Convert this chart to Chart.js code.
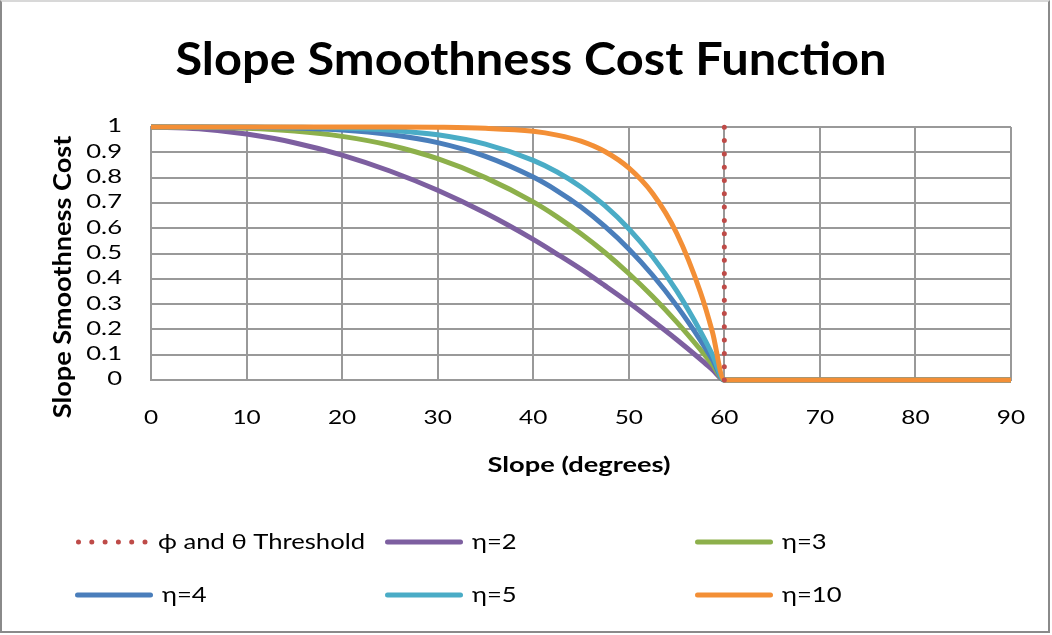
<!DOCTYPE html>
<html>
<head>
<meta charset="utf-8">
<title>Slope Smoothness Cost Function</title>
<script src="https://cdn.jsdelivr.net/npm/chart.js@4"></script>
<style>
  html, body { margin: 0; padding: 0; background: #fff; }
  #frame {
    position: absolute; left: 0; top: 0;
    width: 1046px; height: 629px;
    border: 2px solid #8a8a8a;
    border-top-color: #d8d8d8;
  }
  #wrap { position: absolute; left: -2px; top: -2px; width: 1052px; height: 635px; }
</style>
</head>
<body>
<div id="frame"><div id="wrap"><canvas id="costChart" width="1052" height="635"></canvas></div></div>
<script>
// slope samples (degrees) shared by every curve
const slopeDeg = [0, 5, 10, 15, 20, 25, 30, 35, 40, 42.5, 45, 47.5, 50, 52.5, 55, 57.5, 58.75, 60, 90];

// cost values per eta
const eta2  = [1, 0.993, 0.972, 0.938, 0.889, 0.826, 0.75, 0.66, 0.556, 0.498, 0.438, 0.373, 0.306, 0.234, 0.16, 0.082, 0.041, 0, 0];
const eta3  = [1, 0.999, 0.995, 0.984, 0.963, 0.928, 0.875, 0.80, 0.704, 0.645, 0.578, 0.504, 0.421, 0.33, 0.23, 0.12, 0.061, 0, 0];
const eta4  = [1, 1, 0.999, 0.996, 0.988, 0.970, 0.938, 0.884, 0.802, 0.748, 0.684, 0.607, 0.518, 0.414, 0.294, 0.157, 0.081, 0, 0];
const eta5  = [1, 1, 1, 0.999, 0.996, 0.987, 0.969, 0.932, 0.868, 0.822, 0.763, 0.689, 0.598, 0.487, 0.353, 0.192, 0.10, 0, 0];
const eta10 = [1, 1, 1, 1, 1, 1, 0.999, 0.995, 0.983, 0.968, 0.944, 0.903, 0.838, 0.737, 0.581, 0.347, 0.19, 0, 0];

// threshold marker
const thresholdX = [60, 60];
const thresholdY = [0, 1];

// axis ticks
const xTickValues = [0, 10, 20, 30, 40, 50, 60, 70, 80, 90];
const yTickValues = [0, 0.1, 0.2, 0.3, 0.4, 0.5, 0.6, 0.7, 0.8, 0.9, 1];
const yTickLabels = ['0', '0.1', '0.2', '0.3', '0.4', '0.5', '0.6', '0.7', '0.8', '0.9', '1'];

const seriesLabels = ['ϕ and θ Threshold', 'η=2', 'η=3', 'η=4', 'η=5', 'η=10'];
const seriesColors = ['#be4b48', '#7d5fa0', '#8db04b', '#4a7ebb', '#4aacc6', '#f38f36'];

const chartTitle = 'Slope Smoothness Cost Function';
const xTitle = 'Slope (degrees)';
const yTitle = 'Slope Smoothness Cost';

const FONT = 'Lato, "Open Sans", sans-serif';

function toPoints(xs, ys) {
    return xs.map((x, i) => ({ x: x, y: ys[i] }));
}

const curves = [eta2, eta3, eta4, eta5, eta10];

const datasets = [{
    label: seriesLabels[0],
    data: toPoints(thresholdX, thresholdY),
    borderColor: seriesColors[0],
    borderWidth: 5,
    borderDash: [0, 13.3],
    borderCapStyle: 'round',
    pointRadius: 0,
    order: 0,
    clip: 8
}];
curves.forEach((vals, i) => {
    datasets.push({
        label: seriesLabels[i + 1],
        data: toPoints(slopeDeg, vals),
        borderColor: seriesColors[i + 1],
        borderWidth: 5,
        cubicInterpolationMode: 'monotone',
        pointRadius: 0,
        order: 5 - i,
        clip: 8
    });
});

// text is drawn slightly widened, like the office renderer does
function wideText(ctx, text, x, y, font, stretch, align, angle) {
    ctx.save();
    ctx.translate(x, y);
    if (angle) ctx.rotate(angle);
    ctx.scale(stretch, 1);
    ctx.font = font;
    ctx.textAlign = align;
    ctx.textBaseline = 'middle';
    ctx.fillStyle = '#000';
    ctx.fillText(text, 0, 0);
    ctx.restore();
}

// legend slots: three columns, two rows
const legendSlots = [
    { x: 76, y: 542, text: 158 },
    { x: 385, y: 542 },
    { x: 695, y: 542 },
    { x: 75, y: 595 },
    { x: 385, y: 595 },
    { x: 695, y: 595 }
];

const labelsPlugin = {
    id: 'labelsPlugin',
    afterDraw(chart) {
        const ctx = chart.ctx;
        const xs = chart.scales.x;
        const ys = chart.scales.y;
        const area = chart.chartArea;

        wideText(ctx, chartTitle, 531, 60, 'bold 46px ' + FONT, 1.06, 'center');

        xs.ticks.forEach(t => {
            wideText(ctx, String(t.value), xs.getPixelForValue(t.value), 418, '20px ' + FONT, 1.22, 'center');
        });
        ys.ticks.forEach((t, i) => {
            wideText(ctx, yTickLabels[i], area.left - 29, ys.getPixelForValue(t.value) - 1, '20px ' + FONT, 1.28, 'right');
        });

        wideText(ctx, xTitle, 579, 465, 'bold 21px ' + FONT, 1.3, 'center');
        wideText(ctx, yTitle, 63, 277, 'bold 24px ' + FONT, 1.13, 'center', -Math.PI / 2);

        chart.data.datasets.forEach((ds, i) => {
            const slot = legendSlots[i];
            const len = 78;
            ctx.save();
            ctx.strokeStyle = ds.borderColor;
            ctx.lineWidth = ds.borderWidth;
            ctx.lineCap = 'round';
            ctx.setLineDash(ds.borderDash || []);
            ctx.beginPath();
            ctx.moveTo(slot.x + 2.5, slot.y);
            ctx.lineTo(slot.x + len - 2.5, slot.y);
            ctx.stroke();
            ctx.restore();
            wideText(ctx, ds.label, slot.text || slot.x + len + 9, slot.y, '21px ' + FONT, 1.22, 'left');
        });
    }
};

new Chart(document.getElementById('costChart'), {
    type: 'line',
    data: { datasets: datasets },
    plugins: [labelsPlugin],
    options: {
        responsive: false,
        animation: false,
        layout: { padding: { top: 127, right: 41, bottom: 255, left: 151 } },
        plugins: {
            legend: { display: false },
            tooltip: { enabled: false },
            title: { display: false }
        },
        scales: {
            x: {
                type: 'linear',
                min: 0,
                max: 90,
                afterBuildTicks(scale) { scale.ticks = xTickValues.map(v => ({ value: v })); },
                afterFit(scale) { scale.height = 0; },
                ticks: { display: false },
                grid: { color: '#999', lineWidth: 2, drawTicks: false },
                border: { color: '#999', width: 2 }
            },
            y: {
                min: 0,
                max: 1,
                afterBuildTicks(scale) { scale.ticks = yTickValues.map(v => ({ value: v })); },
                afterFit(scale) { scale.width = 0; },
                ticks: { display: false },
                grid: { color: '#999', lineWidth: 2, drawTicks: false },
                border: { color: '#999', width: 2 }
            }
        }
    }
});
</script>
</body>
</html>
